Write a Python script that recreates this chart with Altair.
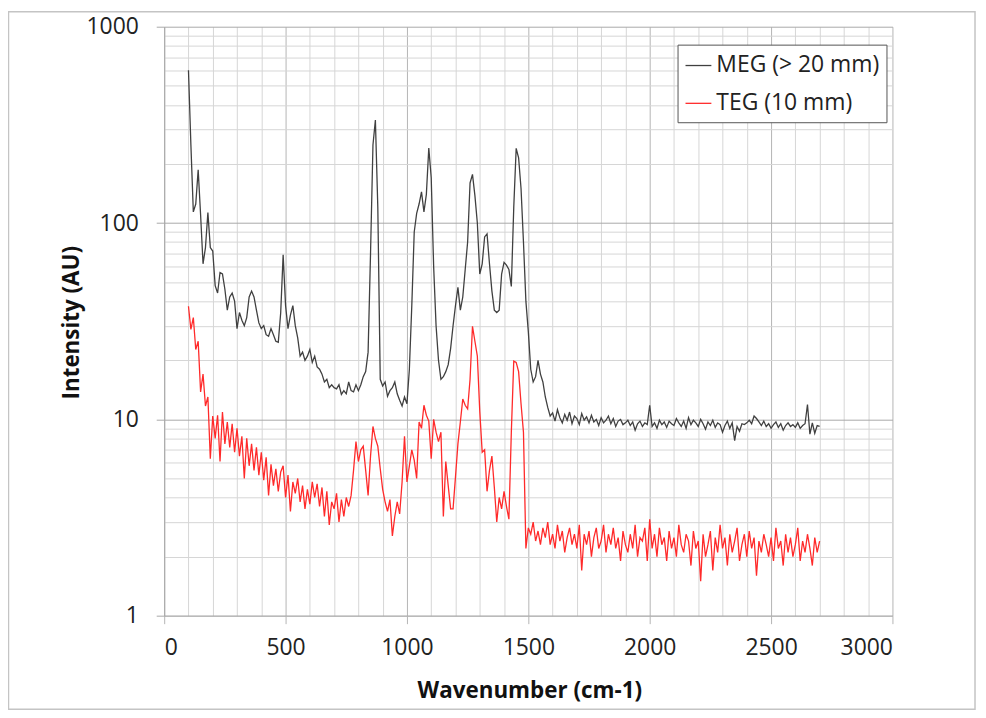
import altair as alt
import pandas as pd

# Wavenumber grid (cm-1), one sample every 10 cm-1 from 100 to 2700
wavenumber = list(range(100, 2701, 10))

meg_values = [
    600, 250, 114, 125, 187, 110, 62, 75, 113, 75,          # 100-190
    72, 48, 44, 56, 55, 46, 36, 42, 44, 40,                 # 200-290
    29, 35, 32, 30, 33, 42, 45, 42, 36, 31,                 # 300-390
    29, 30, 27, 26.5, 29, 27, 25, 24.7, 35, 69,             # 400-490
    38, 29, 34, 38, 30, 26, 21, 22, 20, 21,                 # 500-590
    22.7, 19.5, 21, 18.5, 18, 17, 15.5, 16, 14.5, 15,       # 600-690
    14.5, 14.3, 15, 13.4, 14, 13.5, 15.5, 14, 13.8, 15,     # 700-790
    14, 15, 16.5, 17.5, 22, 70, 250, 335, 120, 16,          # 800-890
    14.8, 15.5, 13.1, 14, 14.5, 15.5, 13.5, 12.5, 11.7, 13, # 900-990
    12, 18, 38, 90, 112, 125, 144, 114, 140, 241,           # 1000-1090
    170, 60, 30, 20, 16, 16.5, 17.5, 19, 23, 30,            # 1100-1190
    38, 47, 36, 42, 58, 80, 160, 177, 138, 100,             # 1200-1290
    55, 62, 85, 88, 62, 45, 36, 35, 36, 55,                 # 1300-1390
    63, 61, 58, 47.5, 120, 240, 215, 150, 80, 40,           # 1400-1490
    28, 18, 15.5, 16.5, 20, 17, 15.5, 13, 11.5, 10.4,       # 1500-1590
    10.8, 9.8, 11.2, 10.2, 9.6, 10.6, 9.9, 10.9, 9.5, 10.4, # 1600-1690
    10.1, 9.4, 10.7, 9.9, 10.3, 9.6, 10.5, 9.7, 10.0, 9.3,  # 1700-1790
    10.2, 9.6, 9.9, 10.4, 9.5, 10.1, 9.2, 9.8, 10.0, 9.4,   # 1800-1890
    9.6, 9.9, 9.3, 9.7, 8.8, 9.5, 9.8, 9.2, 9.6, 9.4,       # 1900-1990
    11.8, 9.2, 9.6, 9.0, 9.9, 9.4, 9.7, 9.1, 9.8, 9.5,      # 2000-2090
    9.3, 10.1, 9.6, 9.2, 9.8, 9.0, 10.2, 9.4, 9.9, 9.6,     # 2100-2190
    9.2, 10.0, 9.5, 8.9, 9.7, 9.3, 9.9, 9.1, 9.6, 9.4,      # 2200-2290
    8.6, 9.3, 9.8, 9.0, 9.6, 7.8, 9.2, 8.7, 9.5, 9.4,       # 2300-2390
    9.6, 9.9, 9.5, 10.4, 10.1, 9.7, 9.3, 9.8, 9.2, 9.5,     # 2400-2490
    9.0, 9.4, 9.7, 9.1, 9.5, 8.8, 9.3, 9.6, 9.2, 9.4,       # 2500-2590
    9.1, 9.6, 9.0, 9.3, 9.5, 11.9, 8.4, 9.6, 8.5, 9.3,      # 2600-2690
    9.2,                                                     # 2700
]

teg_values = [
    37.7, 28.7, 33, 22.7, 25, 13.8, 17, 11.7, 13, 6.3,      # 100-190
    10.4, 8, 10.5, 6.1, 10.9, 7.5, 9.7, 7.2, 9.5, 6.8,      # 200-290
    9.0, 6.5, 8.2, 5.0, 8.0, 5.8, 7.5, 5.5, 7.2, 5.2,       # 300-390
    6.8, 4.9, 6.4, 4.1, 5.9, 4.6, 5.6, 4.3, 5.4, 5.8,       # 400-490
    4.0, 5.2, 3.4, 4.8, 4.2, 5.0, 3.8, 4.6, 3.5, 4.4,       # 500-590
    3.7, 4.8, 4.0, 4.7, 3.6, 4.5, 3.2, 4.3, 2.9, 3.8,       # 600-690
    3.5, 4.2, 3.0, 3.9, 3.2, 4.0, 3.6, 4.1, 5.5, 7.7,       # 700-790
    6.1, 7.0, 7.3, 5.5, 4.1, 6.5, 9.2, 8.0, 7.3, 5.6,       # 800-890
    4.4, 3.8, 3.4, 3.9, 2.55, 3.2, 3.8, 3.3, 4.8, 8.2,      # 900-990
    4.8, 5.8, 7.0, 6.2, 5.0, 9.7, 9.0, 11.8, 10.5, 9.8,     # 1000-1090
    6.3, 10.0, 8.6, 7.7, 8.6, 3.2, 6.1, 4.6, 3.5, 3.5,      # 1100-1190
    5.1, 7.5, 9.7, 12.7, 11.8, 11.3, 16, 29.8, 25, 21,      # 1200-1290
    11, 6.8, 7.0, 4.3, 5.5, 6.5, 4.5, 3.0, 4.0, 3.5,        # 1300-1390
    4.3, 3.6, 3.1, 8.6, 19.8, 19.5, 17.5, 12, 8.6, 2.2,     # 1400-1490
    2.8, 2.6, 3.0, 2.4, 2.7, 2.3, 2.8, 2.5, 3.0, 2.3,       # 1500-1590
    2.6, 2.2, 2.9, 2.4, 2.7, 2.1, 2.5, 2.8, 2.3, 2.6,       # 1600-1690
    2.2, 2.9, 1.7, 2.6, 2.3, 2.7, 2.0, 2.5, 2.8, 2.2,       # 1700-1790
    2.4, 2.9, 2.1, 2.6, 2.3, 2.8, 2.2, 2.5, 1.9, 2.7,       # 1800-1890
    2.3, 2.1, 2.6, 2.2, 2.9, 2.0, 2.5, 2.4, 2.8, 1.9,       # 1900-1990
    3.1, 2.2, 2.6, 2.0, 2.8, 2.3, 2.5, 1.9, 2.7, 2.2,       # 2000-2090
    2.5, 2.0, 2.9, 2.3, 2.1, 2.6, 2.4, 1.8, 2.7, 2.2,       # 2100-2190
    2.4, 1.5, 2.6, 2.0, 2.3, 2.7, 1.7, 2.5, 2.1, 2.9,       # 2200-2290
    2.2, 2.5, 1.8, 2.6, 2.1, 2.4, 2.8, 1.9, 2.3, 2.6,       # 2300-2390
    2.0, 2.7, 2.2, 2.5, 1.6, 2.4, 2.1, 2.6, 2.3, 2.0,       # 2400-2490
    2.5, 1.9, 2.8, 2.2, 2.4, 1.8, 2.6, 2.1, 2.5, 2.0,       # 2500-2590
    2.3, 2.8, 1.9, 2.4, 2.1, 2.6, 2.2, 1.8, 2.5, 2.1,       # 2600-2690
    2.4,                                                     # 2700
]

series_names = ["MEG (> 20 mm)", "TEG (10 mm)"]
series_colors = ["#404040", "#ff2a2a"]

x_grid = list(range(0, 3001, 100))
y_grid = [m * 10 ** e for e in range(0, 3) for m in range(1, 10)] + [1000]

df = pd.concat([
    pd.DataFrame({"wavenumber": wavenumber, "intensity": meg_values, "series": series_names[0]}),
    pd.DataFrame({"wavenumber": wavenumber, "intensity": teg_values, "series": series_names[1]}),
], ignore_index=True)

FONT = "Open Sans"
DECADE = "datum.value == 1 || datum.value == 10 || datum.value == 100 || datum.value == 1000"

lines = alt.Chart(df).mark_line(strokeWidth=1.3, clip=True).encode(
    x=alt.X(
        "wavenumber:Q",
        scale=alt.Scale(domain=[0, 3000], nice=False, zero=False),
        axis=alt.Axis(
            values=x_grid,
            title="Wavenumber (cm-1)",
            labelExpr="datum.value % 500 === 0 ? format(datum.value, 'd') : ''",
            gridColor={"condition": {"test": "datum.value % 500 === 0", "value": "#b4b4b4"}, "value": "#d6d6d6"},
            tickColor={"condition": {"test": "datum.value % 500 === 0", "value": "#b4b4b4"}, "value": "transparent"},
            tickSize=8,
            labelPadding=24,
            labelBaseline="middle",
            labelFontSize=23,
            labelColor="#222222",
            labelFont=FONT,
            titleFont=FONT,
            titleFontSize=22.5,
            titleFontWeight="bold",
            titleColor="#111111",
            titleX=367,
            titleY=75,
            titleBaseline="middle",
            domainColor="#b4b4b4",
        ),
    ),
    y=alt.Y(
        "intensity:Q",
        scale=alt.Scale(type="log", domain=[1, 1000], nice=False),
        axis=alt.Axis(
            values=y_grid,
            title="Intensity (AU)",
            labelExpr="(" + DECADE + ") ? format(datum.value, 'd') : ''",
            gridColor={"condition": {"test": DECADE, "value": "#a8a8a8"}, "value": "#d6d6d6"},
            tickColor={"condition": {"test": DECADE, "value": "#a8a8a8"}, "value": "transparent"},
            tickSize=8,
            labelPadding=18,
            labelFontSize=23,
            labelColor="#222222",
            labelFont=FONT,
            titleFont=FONT,
            titleFontSize=22.5,
            titleFontWeight="bold",
            titleColor="#111111",
            titleX=-93,
            titleY=297,
            titleBaseline="middle",
            domainColor="#a8a8a8",
        ),
    ),
    color=alt.Color(
        "series:N",
        scale=alt.Scale(domain=series_names, range=series_colors),
        legend=alt.Legend(
            title=None,
            orient="none",
            legendX=516,
            legendY=18,
            symbolType="stroke",
            symbolSize=676,
            symbolStrokeWidth=1.3,
            labelFontSize=23,
            labelFont=FONT,
            labelColor="#222222",
            labelOffset=4,
            rowPadding=12,
            padding=7,
            strokeColor="#555555",
            fillColor="white",
            labelLimit=400,
        ),
    ),
    detail="series:N",
)

frame = alt.Chart(pd.DataFrame({"k": [0]})).mark_rect(
    fillOpacity=0, stroke="#c4c4c4", strokeWidth=1.5
).encode(
    x=alt.value(-156.5), x2=alt.value(815), y=alt.value(-15), y2=alt.value(686)
)

chart = alt.layer(frame, lines).properties(
    width=732,
    height=592,
    autosize=alt.AutoSizeParams(type="none"),
    padding={"left": 157, "top": 17, "right": 86, "bottom": 96},
    background="white",
).configure_view(stroke=None)

chart.save("out.html", embed_options={"renderer": "svg", "actions": False})
